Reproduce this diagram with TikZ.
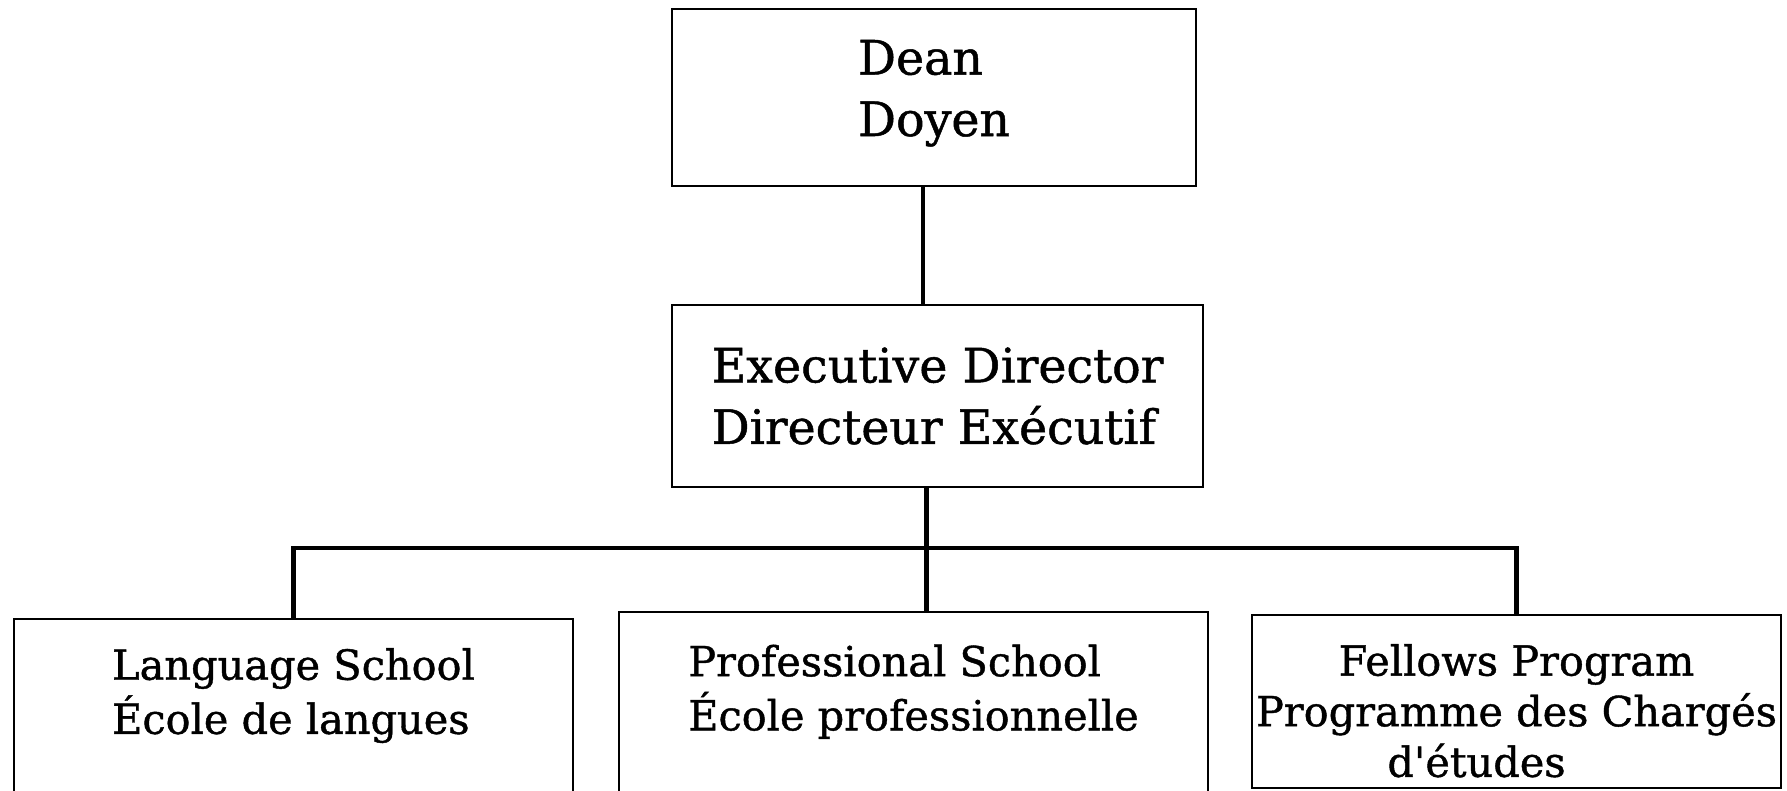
\documentclass[tikz,border=0pt]{standalone}
\usepackage{fontspec}
\setmainfont{DejaVu Serif}[Ligatures=TeXOff,FakeBold=1]
\begin{document}
\begin{tikzpicture}[unit/.style={draw,line width=0.6pt,align=left,inner sep=0pt},
    big/.style={font=\fontsize{13.5}{17.5}\selectfont},
    small/.style={font=\fontsize{11.8}{15.4}\selectfont},
    wire/.style={line width=1.4pt}]
      \useasboundingbox (0,0) rectangle (17.87,-7.90);
      \node[unit,big,text depth=0.19cm,minimum width=5.24cm,minimum height=1.77cm] (dean) at (9.34,-0.975) {Dean\\Doyen};
      \node[unit,big,minimum width=5.31cm,minimum height=1.82cm] (exec) at (9.375,-3.96) {Executive Director\\Directeur Exécutif};
      \node[unit,small,text depth=0.32cm,minimum width=5.59cm,minimum height=1.76cm] (lang) at (2.935,-7.07) {Language School\\École de langues};
      \node[unit,small,text depth=0.32cm,minimum width=5.89cm,minimum height=1.83cm] (prof) at (9.135,-7.035) {Professional School\\École professionnelle};
      \node[unit,font=\fontsize{11.8}{14.4}\selectfont,align=center,minimum width=5.29cm,minimum height=1.73cm] (fell) at (15.165,-7.015) {\rule{0pt}{0.5cm}Fellows Program\\Programme des Chargés\\d'études\hspace*{0.8cm}};
      \draw[wire] ([xshift=-0.11cm]dean.south) -- ([xshift=-0.11cm]dean.south |- exec.north);
      \draw[wire] ([xshift=-0.11cm]exec.south) -- ([xshift=-0.11cm]exec.south |- prof.north);
      \draw[wire] (lang.north) -- ++(0,0.70) -| (fell.north);
    \end{tikzpicture}
\end{document}
